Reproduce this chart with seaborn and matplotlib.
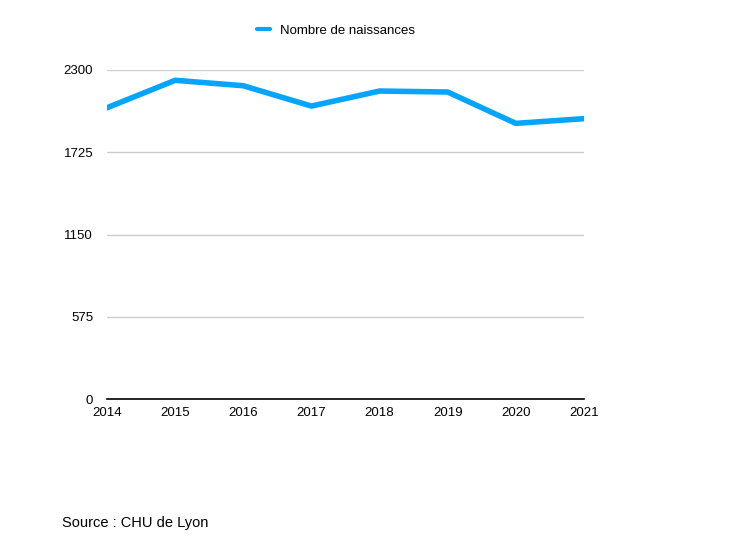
import matplotlib
matplotlib.use("Agg")
import matplotlib.pyplot as plt
import seaborn as sns
import pandas as pd

annees = [2014, 2015, 2016, 2017, 2018, 2019, 2020, 2021]
naissances = [2036, 2228, 2190, 2048, 2153, 2146, 1927, 1960]
yticks = [0, 575, 1150, 1725, 2300]

sns.set_theme(style="white")
plt.rcParams["font.family"] = ["Liberation Sans", "DejaVu Sans"]

df = pd.DataFrame({"annee": annees, "Nombre de naissances": naissances})

fig = plt.figure(figsize=(7.43, 5.49), dpi=100)
ax = fig.add_axes([0.144, 0.273, 0.642, 0.5995])

sns.lineplot(data=df, x="annee", y="Nombre de naissances", ax=ax,
             color="#05a5fc", linewidth=4.0, label="Nombre de naissances")

ax.set_xlim(annees[0], annees[-1])
ax.set_ylim(0, 2300)
ax.set_xticks(annees)
ax.set_yticks(yticks)
ax.set_xticklabels([str(a) for a in annees], fontsize=9.5, color="#000000")
ax.set_yticklabels([str(v) for v in yticks], fontsize=9.5, color="#000000")
ax.set_xlabel("")
ax.set_ylabel("")
ax.tick_params(axis="y", length=0, pad=10)
ax.tick_params(axis="x", length=0, pad=6)
ax.grid(axis="y", color="#cccccc", linewidth=1)
for s in ["top", "left", "right"]:
    ax.spines[s].set_visible(False)
ax.spines["bottom"].set_color("#000000")
ax.spines["bottom"].set_linewidth(1.2)
ax.set_axisbelow(True)

leg = ax.legend(loc="lower center", bbox_to_anchor=(0.48, 1.064), frameon=False,
                fontsize=9.5, handlelength=1.0, handletextpad=0.8)
for h in leg.get_lines():
    h.set_linewidth(3)
for t in leg.get_texts():
    t.set_color("#000000")

fig.text(62 / 743, 1 - 523 / 549, "Source : CHU de Lyon", fontsize=10.5,
         color="#000000", va="center", ha="left")

fig.savefig("out.png", dpi=100)
